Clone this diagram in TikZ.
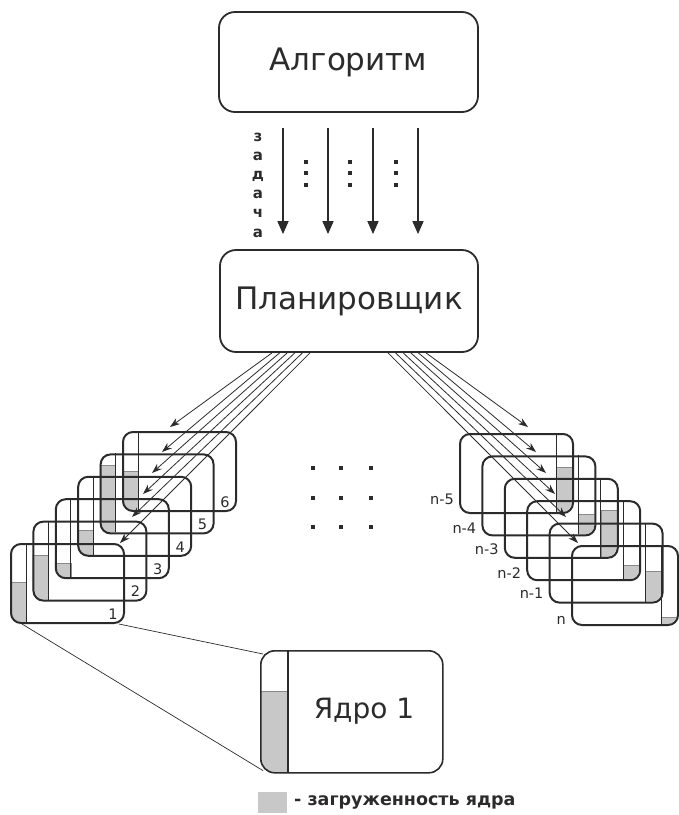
\documentclass[tikz,border=0pt]{standalone}
\usepackage{fontspec}
\setmainfont{DejaVu Sans}
\usetikzlibrary{arrows.meta,calc}
\definecolor{ink}{HTML}{2B2B2B}
\definecolor{load}{HTML}{C8C8C8}
\definecolor{loadedge}{HTML}{8A8A8A}
\begin{document}
\begin{tikzpicture}[x=1pt,y=-1pt,
  bigbox/.style={draw=ink, line width=1.8pt, rounded corners=16pt, minimum width=259pt, minimum height=100pt, inner sep=0pt, font=\fontsize{31}{31}\selectfont, text=ink},
  core/.style={draw=ink, line width=2pt, rounded corners=10pt, minimum width=113pt, minimum height=79pt, inner sep=0pt},
  varrow/.style={draw=ink, line width=1.6pt, -{Triangle[width=11pt,length=13pt]}},
  farrow/.style={draw=ink, line width=0.8pt, -{Stealth[length=10pt,width=7pt]}},
  lbl/.style={font=\fontsize{14.5}{14.5}\selectfont, text=ink, inner sep=0pt},
  barline/.style={draw=ink, line width=1pt},
  loadfill/.style={fill=load, draw=loadedge, line width=0.5pt},
  zoomline/.style={draw=ink, line width=0.7pt}
]
\useasboundingbox (0,0) rectangle (679,815);

% top boxes
\node[bigbox] (alg) at (348.5,62) {Алгоритм};
\node[bigbox, minimum width=258pt, minimum height=102pt] (plan) at (349,301) {Планировщик};

% vertical arrows
\foreach \x [count=\i] in {283,328,373,418} {
  \coordinate (vx\i) at (\x,0);
  \draw[varrow] ($(alg.south -| vx\i)+(0,15)$) -- ($(plan.north -| vx\i)+(0,-15)$);
}
% vertical dots
\foreach \x in {306,350,396} {
  \foreach \y in {162,173,185} {
    \fill[ink] (\x-2,\y-2) rectangle (\x+2,\y+2);
  }
}
\node[font=\bfseries\fontsize{15}{19.2}\selectfont, text=ink, align=center, inner sep=0pt] (task) at (258,185) {з\\а\\д\\а\\ч\\а};

% ---------- left stack: gray loads ----------
\foreach \k/\g in {1/39,2/35,3/65,4/54,5/12,6/40} {
  \pgfmathsetmacro\lx{10+22.4*(\k-1)}
  \pgfmathsetmacro\ty{543-22.4*(\k-1)}
  \begin{scope}
    \clip[rounded corners=10pt] (\lx,\ty) rectangle (\lx+113,\ty+79);
    \path[loadfill] (\lx-2,\ty+\g) rectangle (\lx+16,\ty+81);
  \end{scope}
}
% ---------- right stack: gray loads ----------
\foreach \j/\g/\w in {0/34/113,1/59/113,2/32/113,3/65/113,4/49/113,5/72/106} {
  \pgfmathsetmacro\lx{459+22.4*\j}
  \pgfmathsetmacro\ty{433+22.4*\j}
  \begin{scope}
    \clip[rounded corners=10pt] (\lx,\ty) rectangle (\lx+\w,\ty+79);
    \path[loadfill] (\lx+\w-16,\ty+\g) rectangle (\lx+\w+2,\ty+81);
  \end{scope}
}

% ---------- left stack boxes ----------
\foreach \k in {1,...,6} {
  \pgfmathsetmacro\lx{10+22.4*(\k-1)}
  \pgfmathsetmacro\ty{543-22.4*(\k-1)}
  \draw[barline] (\lx+16,\ty) -- (\lx+16,\ty+79);
  \node[core, anchor=north west] (L\k) at (\lx,\ty) {};
  \node[lbl] (Ln\k) at ($(L\k.south east)+(-12,-10)$) {\k};
}
% ---------- right stack boxes ----------
\foreach \j/\w/\name/\dy in {0/113/n-5/15,1/113/n-4/8,2/113/n-3/10,3/113/n-2/8,4/113/n-1/10,5/106/n/6} {
  \pgfmathsetmacro\lx{459+22.4*\j}
  \pgfmathsetmacro\ty{433+22.4*\j}
  \draw[barline] (\lx+\w-16,\ty) -- (\lx+\w-16,\ty+79);
  \node[core, minimum width=\w pt, anchor=north west] (R\j) at (\lx,\ty) {};
  \node[lbl, anchor=east] (Rn\j) at ($(R\j.south west)+(-5,-\dy)$) {\name};
}

% ---------- fan arrows ----------
\coordinate (tL1) at (120,543);
\coordinate (tL2) at (132,517);
\coordinate (tL3) at (143,494);
\coordinate (tL4) at (152,473);
\coordinate (tL5) at (162,452);
\coordinate (tL6) at (170,427);
\foreach \k in {1,...,6} {
  \pgfmathsetmacro\off{-39-7.6*(\k-1)}
  \draw[farrow] ($(plan.south)+(\off,0)$) -- (tL\k);
}
\coordinate (tR5) at (578,543);
\coordinate (tR4) at (566,517);
\coordinate (tR3) at (555,494);
\coordinate (tR2) at (546,473);
\coordinate (tR1) at (536,452);
\coordinate (tR0) at (528,427);
\foreach \j in {0,...,5} {
  \pgfmathsetmacro\off{77-7.6*\j}
  \draw[farrow] ($(plan.south)+(\off,0)$) -- (tR\j);
}

% middle dot grid
\foreach \x in {313,341,371} {
  \foreach \y in {468,498,527} {
    \fill[ink] (\x-2.3,\y-2.3) rectangle (\x+2.3,\y+2.3);
  }
}

% ---------- enlarged core ----------
\begin{scope}
  \clip[rounded corners=14pt] (260,650) rectangle (442,772);
  \path[loadfill] (258,691) rectangle (288,774);
\end{scope}
\draw[barline, line width=1.2pt] (288,650) -- (288,772);
\node[draw=ink, line width=1.6pt, rounded corners=14pt, minimum width=182pt, minimum height=122pt, inner sep=0pt, anchor=north west] (core) at (260,650) {};
\node[font=\fontsize{28}{28}\selectfont, text=ink, inner sep=0pt] (corelbl) at (364,711) {Ядро 1};

\draw[zoomline] ($(L1.south west)+(12,0)$) -- ($(core.south west)+(3,-3)$);
\draw[zoomline] ($(L1.south east)+(-6,0)$) -- ($(core.north west)+(3,4)$);

% legend
\fill[load] (258,792) rectangle (287,813);
\node[font=\bfseries\fontsize{17.5}{17.5}\selectfont, text=ink, anchor=west, inner sep=0pt] (legend) at (294,802) {- загруженность ядра};
\end{tikzpicture}
\end{document}
